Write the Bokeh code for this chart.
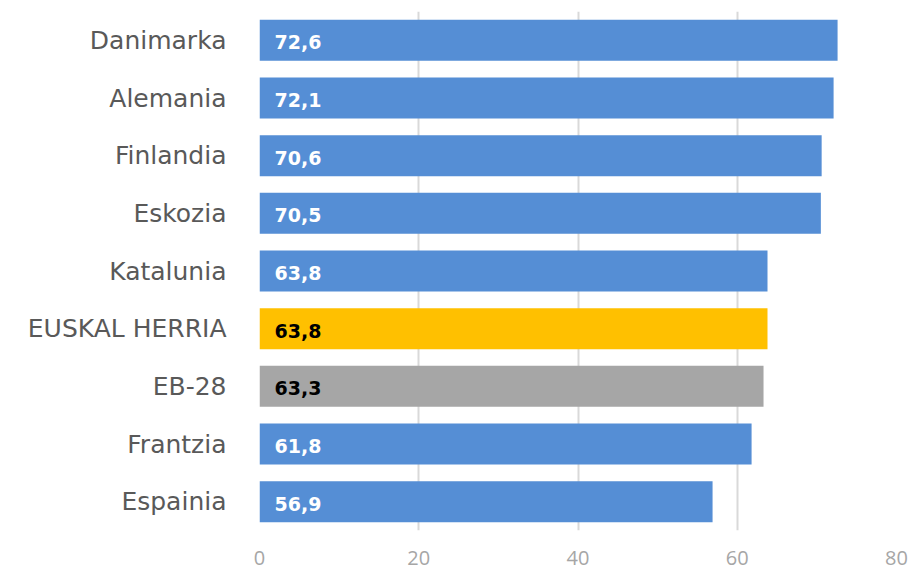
from bokeh.plotting import figure
from bokeh.models import ColumnDataSource, FactorRange, Range1d, FixedTicker
from bokeh.embed import file_html
from bokeh.resources import INLINE
from bokeh.core.properties import value

countries = ["Danimarka", "Alemania", "Finlandia", "Eskozia", "Katalunia",
             "EUSKAL HERRIA", "EB-28", "Frantzia", "Espainia"]
values = [72.6, 72.1, 70.6, 70.5, 63.8, 63.8, 63.3, 61.8, 56.9]
colors = ["#558ED5", "#558ED5", "#558ED5", "#558ED5", "#558ED5",
          "#FFC000", "#A6A6A6", "#558ED5", "#558ED5"]
label_colors = ["white", "white", "white", "white", "white",
                "black", "black", "white", "white"]
x_ticks = [0, 20, 40, 60, 80]

labels = [f"{v:.1f}".replace(".", ",") for v in values]
source = ColumnDataSource(dict(country=countries, val=values, color=colors,
                               label=labels, lcolor=label_colors,
                               zero=[0] * len(values)))

FONT = "DejaVu Sans"

p = figure(width=912, height=572, output_backend="svg", toolbar_location=None,
           y_range=FactorRange(*reversed(countries), range_padding=0),
           x_range=Range1d(0, 80),
           min_border_left=259, min_border_top=11, min_border_right=16,
           min_border_bottom=42)
p.y_range.range_padding = 0

p.hbar(y="country", right="val", left=0, height=0.71, color="color",
       line_color=None, source=source)
p.text(x="zero", y="country", text="label", text_color="lcolor",
       text_font=value(FONT), text_font_style="bold", text_font_size="19px",
       text_baseline="middle", x_offset=15, y_offset=2, source=source)

p.outline_line_color = None
p.ygrid.grid_line_color = None
p.xgrid.grid_line_color = "#D9D9D9"
p.xgrid.grid_line_width = 2
p.xaxis.ticker = FixedTicker(ticks=x_ticks)
p.xaxis.axis_line_color = None
p.xaxis.major_tick_line_color = None
p.xaxis.minor_tick_line_color = None
p.xaxis.major_label_text_font = "Open Sans"
p.xaxis.major_label_text_font_size = "20px"
p.xaxis.major_label_text_color = "#A6A6A6"
p.xaxis.major_label_standoff = 14

p.yaxis.axis_line_color = None
p.yaxis.major_tick_line_color = None
p.yaxis.minor_tick_line_color = None
p.yaxis.major_label_text_font = FONT
p.yaxis.major_label_text_font_size = "25px"
p.yaxis.major_label_text_color = "#595959"
p.yaxis.major_label_standoff = 27

open("out.html", "w").write(file_html(p, INLINE))
